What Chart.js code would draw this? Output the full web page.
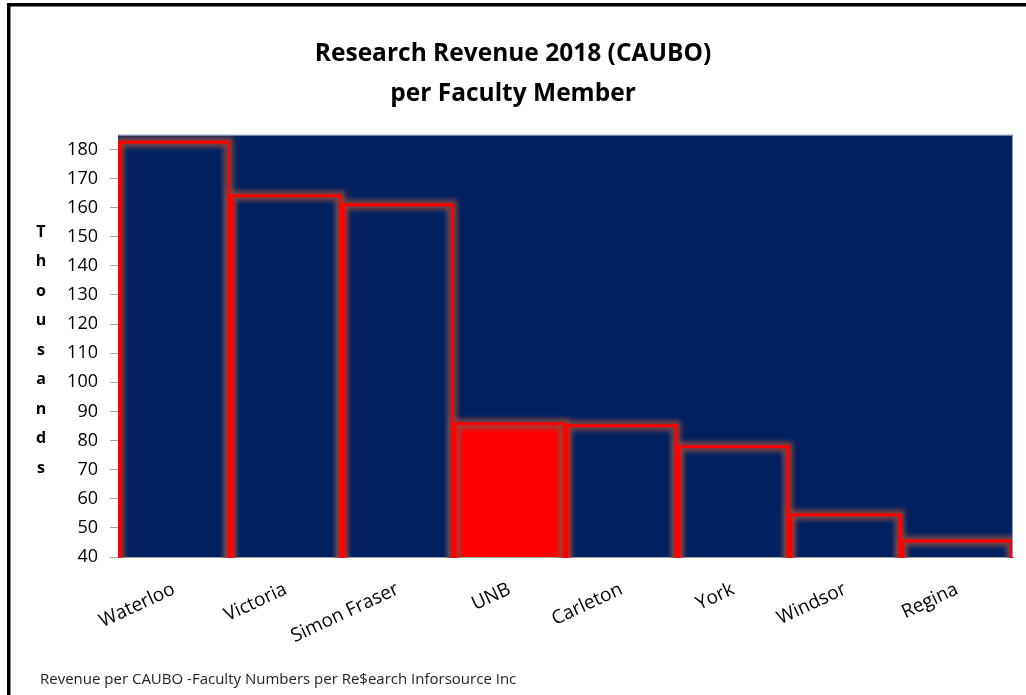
<!DOCTYPE html>
<html>
<head>
<meta charset="utf-8">
<script src="https://cdn.jsdelivr.net/npm/chart.js@4.4.1/dist/chart.umd.min.js"></script>
<style>
  html, body { margin: 0; padding: 0; background: #fff; }
</style>
</head>
<body>
<canvas id="revenueChart" width="1026" height="695"></canvas>
<script>
// data
const universities = ['Waterloo', 'Victoria', 'Simon Fraser', 'UNB', 'Carleton', 'York', 'Windsor', 'Regina'];
const revenuePerFaculty = [182.5, 164.1, 161.0, 85.8, 85.1, 77.9, 54.5, 45.5];
const highlighted = 'UNB';
const yTicks = [40, 50, 60, 70, 80, 90, 100, 110, 120, 130, 140, 150, 160, 170, 180];
const yMin = 40;
const yMax = 185;
const titleLines = ['Research Revenue 2018 (CAUBO)', 'per Faculty Member'];
const yAxisTitle = 'Thousands';
const sourceNote = 'Revenue per CAUBO -Faculty Numbers per Re$earch Inforsource Inc';

const NAVY = '#002060';
const RED = '#ff0000';
const FONT = "'Open Sans', 'DejaVu Sans', sans-serif";

// frame, stacked axis title and the source line
const decorations = {
  id: 'decorations',
  beforeDraw(chart) {
    const ctx = chart.ctx;
    ctx.save();
    ctx.fillStyle = '#000';
    ctx.fillRect(7, 3, chart.width - 7, 3.5);
    ctx.fillRect(7, 3, 3.5, chart.height - 3);
    ctx.restore();
  },
  afterDraw(chart) {
    const ctx = chart.ctx;
    ctx.save();
    ctx.fillStyle = '#000';
    ctx.font = 'bold 16px ' + FONT;
    ctx.textAlign = 'center';
    ctx.textBaseline = 'middle';
    yAxisTitle.split('').forEach((ch, i) => {
      ctx.fillText(ch, 41, 232 + i * 29.5);
    });
    ctx.font = '15px ' + FONT;
    ctx.textAlign = 'left';
    ctx.fillStyle = '#222';
    ctx.fillText(sourceNote, 40, 680);
    ctx.restore();
  }
};

// red outline with a soft brown glow round every bar
const barGlow = {
  id: 'barGlow',
  afterDatasetsDraw(chart) {
    const ctx = chart.ctx;
    const area = chart.chartArea;
    const meta = chart.getDatasetMeta(0);
    ctx.save();
    ctx.beginPath();
    ctx.rect(area.left, area.top, area.right - area.left, area.bottom - area.top + 1);
    ctx.clip();
    const boxes = meta.data.map(bar => {
      const p = bar.getProps(['x', 'y', 'base', 'width'], true);
      return { l: p.x - p.width / 2 + 1.5, r: p.x + p.width / 2 - 1.5, t: p.y, b: p.base - 1 };
    });
    boxes.forEach(k => {
      ctx.save();
      ctx.filter = 'blur(2.5px)';
      ctx.strokeStyle = 'rgba(140, 75, 65, 0.85)';
      ctx.lineWidth = 10;
      ctx.strokeRect(k.l, k.t, k.r - k.l, k.b - k.t);
      ctx.restore();
    });
    boxes.forEach(k => {
      ctx.strokeStyle = RED;
      ctx.lineWidth = 3;
      ctx.strokeRect(k.l, k.t, k.r - k.l, k.b - k.t);
    });
    ctx.restore();
    ctx.save();
    ctx.strokeStyle = 'rgba(150, 165, 200, 0.9)';
    ctx.lineWidth = 1;
    ctx.beginPath();
    ctx.moveTo(area.left, area.top + 0.5);
    ctx.lineTo(area.right - 0.5, area.top + 0.5);
    ctx.lineTo(area.right - 0.5, area.bottom);
    ctx.stroke();
    ctx.restore();
  }
};

const plotBackground = {
  id: 'plotBackground',
  beforeDatasetsDraw(chart) {
    const a = chart.chartArea;
    chart.ctx.save();
    chart.ctx.fillStyle = NAVY;
    chart.ctx.fillRect(a.left, a.top, a.right - a.left, a.bottom - a.top);
    chart.ctx.restore();
  }
};

const ctx = document.getElementById('revenueChart').getContext('2d');
const chart = new Chart(ctx, {
  type: 'bar',
  data: {
    labels: universities,
    datasets: [{
      data: revenuePerFaculty,
      backgroundColor: universities.map(u => u === highlighted ? RED : NAVY),
      borderWidth: 0,
      barPercentage: 1,
      categoryPercentage: 1
    }]
  },
  options: {
    responsive: false,
    animation: false,
    layout: { padding: { left: 13, right: 13, top: 0, bottom: 0 } },
    plugins: {
      legend: { display: false },
      tooltip: { enabled: false },
      title: {
        display: true,
        text: titleLines,
        color: '#000',
        font: { family: FONT, size: 24.5, weight: 'bold', lineHeight: 1.63 },
        padding: { top: 34, bottom: 21 }
      }
    },
    scales: {
      x: {
        grid: { display: false, drawTicks: false },
        border: { display: true, color: '#a6a6a6', width: 1 },
        ticks: {
          color: '#000',
          font: { family: FONT, size: 19 },
          minRotation: 25,
          maxRotation: 25,
          padding: 21,
          autoSkip: false
        },
        afterFit(scale) { scale.height = 138; }
      },
      y: {
        min: yMin,
        max: yMax,
        grid: { drawOnChartArea: false, drawTicks: true, tickLength: 8, color: '#a6a6a6' },
        border: { display: true, color: '#a6a6a6' },
        ticks: { stepSize: 10, color: '#000', font: { family: FONT, size: 18 }, padding: 12 },
        afterBuildTicks(scale) { scale.ticks = yTicks.map(v => ({ value: v })); },
        afterFit(scale) { scale.width = 105; }
      }
    }
  },
  plugins: [plotBackground, barGlow, decorations]
});
</script>
</body>
</html>
